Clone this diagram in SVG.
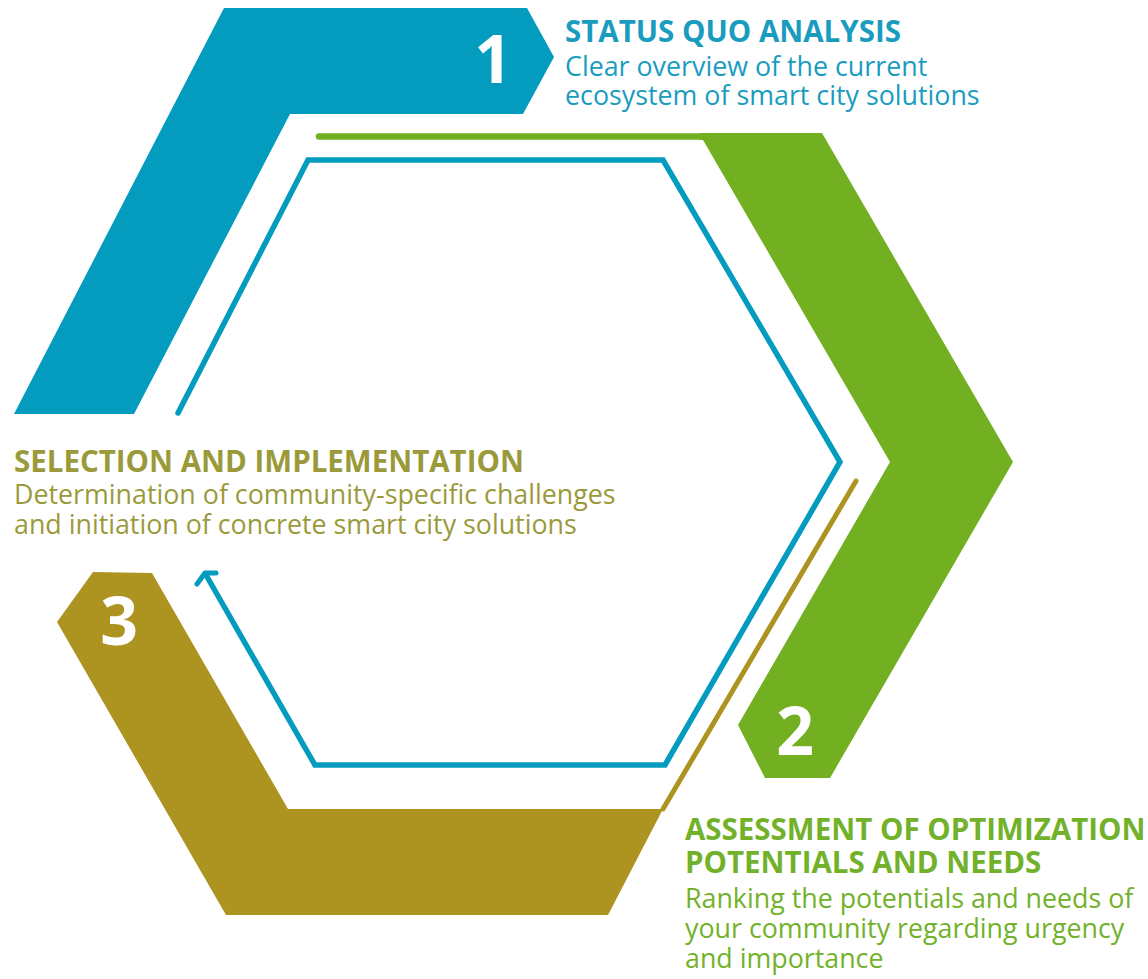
<svg xmlns="http://www.w3.org/2000/svg" width="1148" height="979" viewBox="0 0 1148 979">
<style>
.blue{fill:#039cbf}
.green{fill:#72b022}
.gold{fill:#ad9320}
.num{font-family:"Open Sans","Liberation Sans",sans-serif;font-weight:700;font-size:66px;fill:#ffffff;text-anchor:middle}
.h{font-family:"Open Sans","Liberation Sans",sans-serif;font-weight:700;font-size:29.5px}
.t{font-family:"Open Sans","Liberation Sans",sans-serif;font-weight:400;font-size:26.8px}
.tb{fill:#1a9cbf}
.tg{fill:#72b22a}
.to{fill:#9a9a3a}
</style>
<rect width="1148" height="979" fill="#ffffff"/>
<g id="step1">
<polygon class="blue" points="224,8 527,8 554,57 523,114 290,114 134,414 14,414"/>
<text class="num" x="493" y="83">1</text>
<text class="h tb" x="565" y="42">STATUS QUO ANALYSIS</text>
<text class="t tb" x="565" y="76">Clear overview of the current</text>
<text class="t tb" x="565" y="105">ecosystem of smart city solutions</text>
</g>
<g id="step2">
<polygon class="green" points="700,133 822,133 1013,462 830,778 765,778 738,725 890,462 703,140 700,140"/>
<text class="num" x="795" y="755">2</text>
<text class="h tg" x="685" y="840">ASSESSMENT OF OPTIMIZATION</text>
<text class="h tg" x="685" y="873">POTENTIALS AND NEEDS</text>
<text class="t tg" x="685" y="908">Ranking the potentials and needs of</text>
<text class="t tg" x="685" y="938">your community regarding urgency</text>
<text class="t tg" x="685" y="968">and importance</text>
</g>
<g id="step3">
<polygon class="gold" points="93,572 152,573 288,809 663,809 608,915 226,915 57,622"/>
<text class="num" x="119" y="645">3</text>
<text class="h to" x="14" y="472">SELECTION AND IMPLEMENTATION</text>
<text class="t to" x="14" y="504">Determination of community-specific challenges</text>
<text class="t to" x="14" y="534">and initiation of concrete smart city solutions</text>
</g>
<g id="connectors" fill="none" stroke-linecap="round">
<line x1="319" y1="136.5" x2="704" y2="136.5" stroke="#72b022" stroke-width="6.5"/>
<line x1="856" y1="481" x2="663" y2="809" stroke="#ad9320" stroke-width="5"/>
<path d="M178,413 L308,160 L663,160 L840,462 L665,765 L315,765 L206,575" stroke="#039cbf" stroke-width="5.5" stroke-linejoin="miter"/>
<path d="M197,584 L205,573 L216,573" stroke="#039cbf" stroke-width="5" stroke-linejoin="round"/>
</g>
</svg>
